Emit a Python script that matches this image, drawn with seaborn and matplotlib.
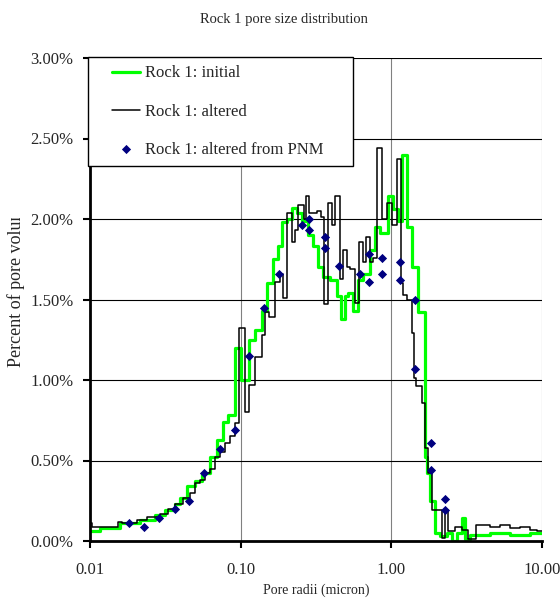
import matplotlib.pyplot as plt
import seaborn as sns
import pandas as pd
from matplotlib.ticker import FixedLocator, NullLocator, FuncFormatter
from matplotlib.patches import Rectangle
from matplotlib.lines import Line2D
from matplotlib.collections import PathCollection
from matplotlib.legend_handler import HandlerLine2D, HandlerPathCollection

# Rock 1: initial (step histogram, bin start radius in micron, percent of pore volume)
initial_radius = [0.0100, 0.01165, 0.01582, 0.02147, 0.02701, 0.03146, 0.03666, 0.03957,
                  0.04402, 0.04975, 0.05536, 0.06256, 0.06962, 0.07631, 0.08238, 0.09167,
                  0.1005, 0.1135, 0.1244, 0.1385, 0.1495, 0.1638, 0.1768, 0.1880, 0.2029,
                  0.2190, 0.2364, 0.2551, 0.2797, 0.3018, 0.3258, 0.3517, 0.3914, 0.4356,
                  0.4630, 0.4922, 0.5154, 0.5563, 0.6004, 0.6480, 0.7213, 0.7786, 0.8403,
                  0.9495, 1.025, 1.106, 1.176, 1.269, 1.370, 1.502, 1.672, 1.723, 1.804,
                  1.947, 2.102, 2.339, 2.525, 2.725, 2.942, 3.080, 3.325, 4.510, 6.125,
                  8.315, 10.0]
initial_pct = [0.06, 0.08, 0.11, 0.13, 0.16, 0.19, 0.23, 0.27,
               0.34, 0.37, 0.42, 0.52, 0.63, 0.74, 0.78, 1.20,
               1.00, 1.25, 1.31, 1.43, 1.60, 1.75, 1.83, 1.98, 2.00,
               2.07, 2.04, 1.99, 1.90, 1.83, 1.70, 1.64, 1.62, 1.52,
               1.38, 1.52, 1.54, 1.43, 1.62, 1.66, 1.81, 1.95, 1.91,
               2.14, 2.06, 1.99, 2.40, 1.95, 1.70, 1.42, 0.52, 0.42, 0.25,
               0.05, 0.03, 0.05, 0.00, 0.05, 0.14, 0.01, 0.04, 0.05, 0.04,
               0.05, 0.05]

# Rock 1: altered
altered_radius = [0.0100, 0.0103, 0.01534, 0.01631, 0.02051, 0.02389, 0.02914, 0.03293,
                  0.03666, 0.04142, 0.04609, 0.04975, 0.05370, 0.05796, 0.06256, 0.06752,
                  0.07289, 0.07868, 0.08492, 0.09167, 0.09745, 0.1068, 0.1135, 0.1244,
                  0.1385, 0.1450, 0.1541, 0.1689, 0.1823, 0.1909, 0.2029, 0.2190, 0.2293,
                  0.2401, 0.2631, 0.2713, 0.2840, 0.3209, 0.3411, 0.3571, 0.3796, 0.4036,
                  0.4225, 0.4560, 0.4774, 0.5076, 0.5314, 0.5735, 0.6097, 0.6480, 0.6785,
                  0.7213, 0.7551, 0.8026, 0.8664, 0.9352, 1.009, 1.090, 1.158, 1.194,
                  1.269, 1.370, 1.413, 1.457, 1.597, 1.672, 1.750, 1.860, 2.167, 2.269,
                  2.375, 2.644, 2.942, 3.225, 3.644, 4.510, 5.257, 6.125, 7.138, 8.315,
                  9.254, 10.0]
altered_pct = [0.11, 0.09, 0.12, 0.11, 0.13, 0.15, 0.17, 0.20,
               0.23, 0.27, 0.30, 0.36, 0.38, 0.42, 0.45, 0.52,
               0.55, 0.61, 0.65, 0.73, 1.32, 0.80, 0.97, 1.14,
               1.28, 1.42, 1.39, 1.61, 1.66, 1.51, 2.04, 1.86, 1.93,
               2.09, 2.00, 2.14, 2.04, 2.05, 2.01, 1.47, 2.10, 1.96,
               2.14, 1.63, 1.81, 1.70, 1.69, 1.48, 1.86, 1.73, 1.89,
               1.73, 1.76, 2.44, 2.00, 2.10, 1.96, 2.37, 1.60, 1.53,
               1.50, 1.29, 1.01, 0.96, 0.86, 0.58, 0.42, 0.19, 0.02, 0.19,
               0.06, 0.09, 0.07, 0.01, 0.10, 0.09, 0.10, 0.08, 0.09, 0.07,
               0.06, 0.06]

# Rock 1: altered from PNM (points)
pnm_radius = [0.01815, 0.02282, 0.02870, 0.03666, 0.04539, 0.05708, 0.07289, 0.09167,
              0.1135, 0.1428, 0.1796, 0.2551, 0.2840, 0.2840, 0.3627, 0.3627, 0.4491,
              0.6190, 0.7103, 0.7103, 0.8664, 0.8664, 1.141, 1.141, 1.435, 1.435,
              1.832, 1.832, 2.269, 2.269]
pnm_pct = [0.11, 0.09, 0.14, 0.20, 0.25, 0.42, 0.57, 0.69,
           1.15, 1.45, 1.66, 1.96, 2.00, 1.93, 1.89, 1.82, 1.71,
           1.66, 1.78, 1.61, 1.76, 1.66, 1.73, 1.62, 1.50, 1.07,
           0.61, 0.44, 0.26, 0.19]

initial_df = pd.DataFrame({'radius': initial_radius, 'percent': initial_pct})
altered_df = pd.DataFrame({'radius': altered_radius, 'percent': altered_pct})
pnm_df = pd.DataFrame({'radius': pnm_radius, 'percent': pnm_pct})

sns.set_style("white")
plt.rcParams['font.family'] = ['Liberation Serif', 'DejaVu Serif']

fig = plt.figure(figsize=(5.6, 6.1), dpi=100)
ax = fig.add_axes([90 / 560, 69 / 610, 452 / 560, 483 / 610])

sns.lineplot(data=initial_df, x='radius', y='percent', drawstyle='steps-post',
             color='#00ff00', lw=2.3, estimator=None, sort=False, ax=ax,
             label='Rock 1: initial')
sns.lineplot(data=altered_df, x='radius', y='percent', drawstyle='steps-post',
             color='black', lw=1.1, estimator=None, sort=False, ax=ax,
             label='Rock 1: altered')
sns.scatterplot(data=pnm_df, x='radius', y='percent', marker='D', s=22,
                color='#000080', edgecolor='#000080', linewidth=0, ax=ax,
                label='Rock 1: altered from PNM', zorder=3)

ax.set_xscale('log')
ax.set_xlim(0.01, 10)
ax.set_ylim(0, 3)
ax.xaxis.set_major_locator(FixedLocator([0.01, 0.1, 1, 10]))
ax.xaxis.set_minor_locator(NullLocator())
ax.xaxis.set_major_formatter(FuncFormatter(lambda v, p: f'{v:.2f}'))
ax.yaxis.set_major_locator(FixedLocator([0, 0.5, 1, 1.5, 2, 2.5, 3]))
ax.yaxis.set_major_formatter(FuncFormatter(lambda v, p: f'{v:.2f}%'))

ax.set_axisbelow(True)
ax.yaxis.grid(True, color='black', lw=0.8)
ax.xaxis.grid(True, color='#808080', lw=0.8)
for side in ['top', 'right']:
    ax.spines[side].set_visible(False)
for side in ['left', 'bottom']:
    ax.spines[side].set_linewidth(2)
    ax.spines[side].set_color('black')

ax.tick_params(axis='x', direction='out', bottom=True, length=5, width=1.5,
               color='black', labelsize=12, pad=10)
ax.tick_params(axis='y', direction='out', left=True, length=5, width=1.5,
               color='black', labelsize=12, pad=7)

ax.set_xlabel('Pore radii (micron)', fontsize=10, labelpad=4)
ax.set_ylabel('')

fig.text(0.507, 1 - 19 / 610, 'Rock 1 pore size distribution', ha='center',
         va='center', fontsize=10.5)

# y label, cut off at the top like in the original chart
fig.text(16 / 560, 1 - 283 / 610, 'Percent of pore volume', rotation=90,
         ha='center', va='center', fontsize=13, zorder=3)
fig.add_artist(Rectangle((0, 1 - 218 / 610), 30 / 560, 70 / 610,
                         transform=fig.transFigure, facecolor='white',
                         edgecolor='none', zorder=10))

hmap = {Line2D: HandlerLine2D(xpad=0.9), PathCollection: HandlerPathCollection(xpad=0.9)}
leg = ax.legend(loc='upper left', bbox_to_anchor=(-0.004, 0.775, 0.585, 0.227),
                mode='expand', fancybox=False, edgecolor='black', framealpha=1,
                fontsize=12, labelspacing=1.33, handlelength=2.6, borderpad=0.5,
                handletextpad=0.3, borderaxespad=0, handler_map=hmap)
leg.get_frame().set_linewidth(1)

fig.savefig('out.png', dpi=100)
